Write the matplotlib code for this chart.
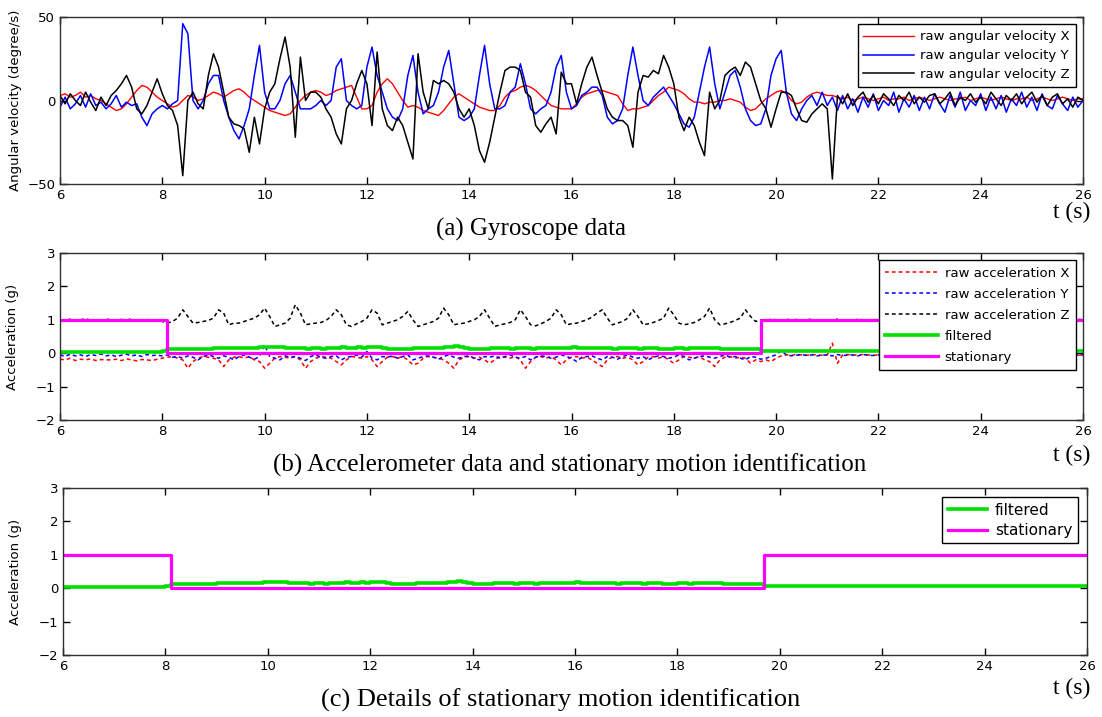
import numpy as np
import matplotlib
matplotlib.use('Agg')
import matplotlib.pyplot as plt

plt.rcParams['font.family'] = ['Liberation Sans Narrow', 'DejaVu Sans']

# time axis, 0.1 s sampling
t = np.linspace(6, 26, 201)

gyro_x = [
    3, 4, 2, 3, 5, 2, 3, 1, 0, -2,
    -4, -6, -5, -2, 2, 6, 9, 8, 5, 2,
    0, -2, -4, -3, 0, 3, 2, 0, 1, 3,
    5, 4, 2, 4, 6, 7, 5, 2, 0, -2,
    -4, -6, -7, -8, -9, -8, -4, 0, 3, 5,
    6, 5, 3, 4, 6, 7, 8, 9, 2, -5,
    -5, -3, 5, 10, 13, 10, 5, 0, -4, -3,
    -4, -6, -7, -8, -9, -6, -2, 2, 4, 2,
    0, -2, -4, -5, -6, -6, -3, 2, 5, 6,
    8, 9, 8, 6, 3, 0, -3, -4, -5, -5,
    -5, -2, 2, 4, 5, 6, 6, 5, 4, 3,
    -2, -6, -5, -5, -4, -3, 0, 3, 5, 8,
    7, 6, 4, 1, -1, -1, -2, -1, -1, 0,
    0, 1, 0, -1, -4, -6, -5, -2, 1, 3,
    5, 6, 4, 0, -2, -1, 2, 4, 5, 4,
    3, 3, 2, 1, 2, 0, 1, 2, 1, 0,
    1, 2, 0, 1, 1, 2, 0, 1, 2, 1,
    0, 1, 2, 1, 0, 1, 1, 2, 0, 1,
    2, 1, 0, 1, 2, 1, 0, 1, 1, 2,
    0, 1, 2, 1, 0, 1, 2, 1, 0, 1,
    1,
]

gyro_y = [
    -4, 2, -5, -2, 3, -4, 4, -3, -1, -5,
    -2, 3, -4, -1, -3, -2, -10, -15, -8, -5,
    -3, -5, -2, 0, 46, 40, 0, -5, 0, 10,
    15, 15, 0, -10, -18, -23, -15, -5, 15, 33,
    5, -5, -5, 0, 10, 15, 5, -5, -5, -5,
    -3, 0, -3, 0, 20, 25, 0, -3, -5, -3,
    20, 32, 15, 5, -5, -10, -12, -5, 15, 27,
    5, -8, -5, -3, 5, 20, 30, 10, -10, -12,
    -10, -5, 15, 33, 10, -5, -5, -3, 5, 8,
    22, 10, -5, -8, -5, -3, 5, 20, 27, 5,
    -5, -3, 3, 5, 8, 8, 3, -10, -14, -12,
    -5, 15, 32, 15, 0, -3, 2, 5, 8, 3,
    -2, -8, -14, -16, -10, 5, 20, 32, 10, -5,
    5, 15, 18, 8, -5, -12, -15, -14, -5, 15,
    25, 30, 5, -8, -12, -5, 0, 3, -3, 5,
    -3, 2, -6, 3, -5, 1, -7, 2, -4, 4,
    -6, 0, -3, 5, -7, 1, -4, 3, -6, 2,
    -5, 4, -2, -7, 3, -4, 5, -6, 0, -3,
    4, -6, 2, -5, 3, -7, 1, -3, 5, -4,
    2, -6, 4, -3, -5, 3, -2, -6, 2, -4,
    0,
]

gyro_z = [
    3, -2, 4, 0, -3, 5, -1, -6, 2, -3,
    3, 6, 10, 15, 8, -5, -8, -3, 5, 13,
    4, -3, -6, -15, -45, 0, 5, -2, -5, 15,
    28, 20, 5, -10, -14, -15, -17, -31, -10, -26,
    -5, 5, 10, 25, 38, 20, -22, 26, 0, 5,
    5, 2, -5, -10, -20, -26, -5, 0, 10, 18,
    10, -15, 29, -5, -15, -18, -10, -15, -25, -35,
    28, 5, -5, 12, 10, 12, 10, 5, -5, -10,
    -5, -15, -30, -37, -25, -10, 5, 18, 20, 20,
    18, 5, 2, -15, -19, -14, -10, -20, 17, 10,
    10, -2, 10, 20, 26, 15, 5, -5, -10, -12,
    -12, -15, -28, 5, 15, 14, 18, 16, 27, 20,
    10, -10, -18, -10, -15, -25, -33, 5, -5, 0,
    15, 18, 20, 15, 23, 20, 10, 0, -5, -16,
    -5, 5, 5, 3, -5, -12, -13, -8, -5, -2,
    -5, -47, 3, -2, 4, -3, 2, 5, -1, 3,
    -2, 4, 1, -3, 3, 0, 5, -2, 2, -1,
    3, 4, -2, 1, 5, -3, 2, 0, 4, -1,
    2, -2, 5, 1, -3, 3, 0, 4, -2, 2,
    5, -1, 3, -3, 2, 4, -2, 1, -4, 2,
    0,
]

acc_x = [
    -0.18, -0.2, -0.15, -0.22, -0.18, -0.2, -0.17, -0.22, -0.19, -0.2,
    -0.2, -0.18, -0.22, -0.17, -0.2, -0.23, -0.19, -0.2, -0.22, -0.18,
    -0.15, -0.12, -0.1, -0.15, -0.2, -0.45, -0.25, -0.15, -0.1, -0.12,
    -0.15, -0.2, -0.4, -0.2, -0.12, -0.1, -0.15, -0.1, -0.2, -0.25,
    -0.45, -0.3, -0.15, -0.1, -0.12, -0.15, -0.1, -0.2, -0.45, -0.25,
    -0.15, -0.1, -0.12, -0.15, -0.25, -0.35, -0.2, -0.1, -0.12, -0.15,
    -0.1, -0.2, -0.4, -0.25, -0.12, -0.1, -0.15, -0.1, -0.2, -0.35,
    -0.3, -0.15, -0.1, -0.12, -0.15, -0.2, -0.3, -0.45, -0.2, -0.12,
    -0.1, -0.15, -0.12, -0.2, -0.3, -0.2, -0.1, -0.12, -0.15, -0.1,
    -0.2, -0.45, -0.25, -0.12, -0.1, -0.15, -0.1, -0.2, -0.35, -0.2,
    -0.12, -0.1, -0.15, -0.12, -0.2, -0.3, -0.4, -0.2, -0.12, -0.1,
    -0.15, -0.12, -0.2, -0.35, -0.25, -0.12, -0.1, -0.15, -0.1, -0.2,
    -0.3, -0.2, -0.1, -0.12, -0.15, -0.1, -0.2, -0.25, -0.4, -0.2,
    -0.12, -0.1, -0.15, -0.12, -0.15, -0.3, -0.2, -0.25, -0.2, -0.25,
    -0.15, -0.08, -0.05, -0.06, -0.04, -0.05, -0.06, -0.04, -0.05, -0.06,
    -0.05, 0.3, -0.3, -0.05, -0.04, -0.06, -0.05, -0.04, -0.05, -0.06,
    -0.05, -0.04, -0.06, -0.05, -0.03, -0.05, -0.06, -0.04, -0.05, -0.05,
    -0.04, -0.06, -0.05, -0.04, -0.05, -0.06, -0.05, -0.03, -0.05, -0.04,
    -0.05, -0.06, -0.04, -0.05, -0.05, -0.04, -0.06, -0.05, -0.04, -0.05,
    -0.06, -0.05, -0.04, -0.05, -0.06, -0.04, -0.05, -0.05, -0.04, -0.06,
    -0.05,
]

acc_y = [
    -0.05, -0.1, -0.03, -0.08, -0.05, -0.1, -0.04, -0.07, -0.02, -0.08,
    -0.05, -0.1, -0.06, -0.03, -0.08, -0.05, -0.1, -0.04, -0.07, -0.06,
    -0.08, -0.05, -0.12, -0.1, -0.15, -0.08, -0.12, -0.2, -0.1, -0.05,
    -0.1, -0.15, -0.08, -0.12, -0.2, -0.1, -0.05, -0.12, -0.18, -0.1,
    0.25, -0.1, -0.15, -0.2, -0.08, -0.12, -0.1, -0.15, -0.22, -0.1,
    -0.05, -0.12, -0.15, -0.1, -0.08, -0.2, -0.12, -0.1, -0.05, -0.12,
    0.05, -0.15, -0.2, -0.1, -0.12, -0.08, -0.15, -0.1, -0.05, -0.2,
    -0.15, -0.1, -0.08, -0.12, -0.18, -0.1, -0.05, -0.12, -0.15, -0.1,
    -0.08, -0.15, -0.2, -0.1, -0.12, -0.08, -0.15, -0.1, -0.05, -0.12,
    -0.15, -0.1, -0.2, -0.12, -0.08, -0.1, -0.15, -0.12, -0.05, -0.1,
    -0.15, -0.25, -0.12, -0.1, -0.08, -0.15, -0.2, -0.1, -0.12, -0.18,
    -0.1, -0.05, -0.12, -0.15, -0.1, -0.2, -0.12, -0.08, -0.1, -0.15,
    -0.12, -0.05, -0.1, -0.2, -0.15, -0.1, -0.08, -0.12, -0.15, -0.1,
    -0.05, -0.12, -0.1, -0.15, -0.2, -0.1, -0.12, -0.18, -0.15, -0.1,
    -0.05, 0.08, -0.05, -0.08, -0.06, -0.04, -0.07, -0.05, -0.08, -0.06,
    -0.05, -0.08, -0.04, -0.07, -0.06, -0.05, -0.08, -0.04, -0.06, -0.07,
    -0.05, -0.08, -0.06, -0.04, -0.07, -0.05, -0.08, -0.06, -0.05, -0.07,
    -0.04, -0.06, -0.08, -0.05, -0.07, -0.06, -0.04, -0.08, -0.05, -0.06,
    -0.07, -0.05, -0.04, -0.08, -0.06, -0.05, -0.07, -0.06, -0.04, -0.08,
    -0.05, -0.06, -0.07, -0.05, -0.08, -0.04, -0.06, -0.05, -0.07, -0.06,
    -0.05,
]

acc_z = [
    1.0, 0.98, 1.02, 0.97, 1.0, 1.03, 0.99, 1.0, 0.96, 1.02,
    1.0, 0.98, 1.01, 0.99, 1.03, 0.97, 1.0, 1.01, 0.98, 1.0,
    0.95, 0.9, 0.95, 1.05, 1.3, 1.1, 0.9, 0.92, 0.95, 0.98,
    1.05, 1.3, 1.2, 0.85, 0.9, 0.9, 0.95, 1.0, 1.05, 1.15,
    1.35, 1.1, 0.8, 0.85, 0.9, 1.05, 1.45, 1.2, 0.85, 0.88,
    0.9, 0.92, 0.98, 1.1, 1.3, 1.15, 0.85, 0.8, 0.88, 0.95,
    1.05, 1.3, 1.2, 0.85, 0.9, 0.95, 1.0, 1.1, 1.25, 1.0,
    0.8, 0.85, 0.9, 0.95, 1.05, 1.35, 1.15, 0.85, 0.88, 0.9,
    0.95, 1.0, 1.1, 1.3, 1.05, 0.8, 0.85, 0.88, 0.92, 1.0,
    1.3, 1.1, 0.85, 0.82, 0.88, 0.95, 1.05, 1.3, 1.15, 0.85,
    0.88, 0.9, 0.95, 1.0, 1.08, 1.2, 1.3, 1.05, 0.85, 0.9,
    0.95, 1.05, 1.3, 1.1, 0.85, 0.88, 0.92, 0.98, 1.05, 1.35,
    1.15, 0.9, 0.85, 0.88, 0.92, 1.0, 1.1, 1.35, 1.0, 0.85,
    0.88, 0.92, 0.98, 1.05, 1.3, 1.1, 0.95, 1.0, 0.98, 1.02,
    1.0, 0.97, 1.02, 0.99, 1.01, 0.98, 1.0, 1.02, 0.98, 1.0,
    1.0, 0.95, 1.03, 0.99, 1.0, 0.98, 1.02, 1.0, 0.99, 1.01,
    1.0, 0.98, 1.01, 1.0, 0.99, 1.02, 0.98, 1.0, 1.01, 0.99,
    1.0, 1.02, 0.98, 1.0, 0.99, 1.01, 1.0, 0.98, 1.02, 1.0,
    0.99, 1.0, 1.01, 0.98, 1.0, 1.02, 0.99, 1.0, 0.98, 1.01,
    1.0, 0.99, 1.02, 1.0, 0.98, 1.0, 1.01, 0.99, 1.0, 1.02,
    1.0,
]

# filtered acceleration magnitude (minus gravity), 6.0 .. 26.0 s
filtered = (
    [0.05] * 20
    + [0.08, 0.12, 0.12, 0.13, 0.12, 0.12, 0.13, 0.12, 0.12, 0.14,
       0.15, 0.16, 0.17, 0.17, 0.16, 0.17, 0.15, 0.15, 0.17, 0.18,
       0.2, 0.19, 0.2, 0.18, 0.16, 0.15, 0.15, 0.16, 0.14, 0.15,
       0.15, 0.14, 0.15, 0.17, 0.17, 0.18, 0.17, 0.17, 0.18, 0.17,
       0.18, 0.2, 0.18, 0.17, 0.14, 0.12, 0.12, 0.13, 0.12, 0.15,
       0.16, 0.16, 0.17, 0.16, 0.17, 0.18, 0.2, 0.21, 0.19, 0.15,
       0.14, 0.13, 0.14, 0.14, 0.15, 0.15, 0.16, 0.15, 0.14, 0.16,
       0.15, 0.15, 0.14, 0.16, 0.16, 0.15, 0.15, 0.16, 0.15, 0.16,
       0.18, 0.17, 0.16, 0.15, 0.15, 0.16, 0.15, 0.15, 0.14, 0.16,
       0.15, 0.16, 0.15, 0.14, 0.15, 0.16, 0.15, 0.14, 0.13, 0.14,
       0.15, 0.15, 0.14, 0.16, 0.16, 0.17, 0.17, 0.16, 0.15, 0.13,
       0.12, 0.13, 0.13, 0.12, 0.12, 0.13, 0.12]
    + [0.08] * 64
)

stationary = [1] * 21 + [0] * 116 + [1] * 64

W, H = 1102, 717
fig = plt.figure(figsize=(W / 100, H / 100), dpi=100)


def px_axes(left, top, right, bottom):
    return fig.add_axes([left / W, 1 - bottom / H, (right - left) / W, (bottom - top) / H])


def style_axes(ax):
    ax.set_xlim(6, 26)
    ax.set_xticks(range(6, 27, 2))
    ax.tick_params(direction='in', top=True, right=True, labelsize=9.5, length=5, width=1)
    for s in ax.spines.values():
        s.set_linewidth(1.0)
        s.set_color('#303030')


leg_kw = dict(loc='upper right', fancybox=False, edgecolor='black', framealpha=1,
              handletextpad=0.5)

# (a) gyroscope
ax1 = px_axes(60, 17, 1083, 184)
ax1.plot(t, gyro_x, color='red', lw=1.0, label='raw angular velocity X')
ax1.plot(t, gyro_y, color='blue', lw=1.1, label='raw angular velocity Y')
ax1.plot(t, gyro_z, color='black', lw=1.1, label='raw angular velocity Z')
style_axes(ax1)
ax1.set_ylim(-50, 50)
ax1.set_yticks([-50, 0, 50])
ax1.set_ylabel('Angular velocity (degree/s)', fontsize=9.5, labelpad=4)
ax1.legend(fontsize=9.5, handlelength=3.8, borderpad=0.45, labelspacing=0.45,
           borderaxespad=0.55, **leg_kw)

# (b) accelerometer
ax2 = px_axes(60, 253, 1083, 420)
ax2.plot(t, acc_x, color='red', lw=1.1, ls='--', dashes=(2.5, 2), label='raw acceleration X')
ax2.plot(t, acc_y, color='blue', lw=1.1, ls='--', dashes=(2.5, 2), label='raw acceleration Y')
ax2.plot(t, acc_z, color='black', lw=1.1, ls='--', dashes=(2.5, 2), label='raw acceleration Z')
ax2.plot(t, filtered, color='#00e000', lw=2.6, drawstyle='steps-post', label='filtered')
ax2.plot(t, stationary, color='#ff00ff', lw=2.3, drawstyle='steps-post', label='stationary')
style_axes(ax2)
ax2.set_ylim(-2, 3)
ax2.set_yticks(range(-2, 4))
ax2.set_ylabel('Acceleration (g)', fontsize=9.5, labelpad=12)
ax2.legend(fontsize=9.5, handlelength=4.0, borderpad=0.5, labelspacing=0.6,
           borderaxespad=0.55, **leg_kw)

# (c) detail
ax3 = px_axes(63, 488, 1087, 655)
ax3.plot(t, filtered, color='#00e000', lw=2.6, drawstyle='steps-post', label='filtered')
ax3.plot(t, stationary, color='#ff00ff', lw=2.3, drawstyle='steps-post', label='stationary')
style_axes(ax3)
ax3.set_ylim(-2, 3)
ax3.set_yticks(range(-2, 4))
ax3.set_ylabel('Acceleration (g)', fontsize=9.5, labelpad=12)
ax3.legend(fontsize=11, handlelength=2.6, borderpad=0.35, labelspacing=0.35,
           borderaxespad=0.6, **leg_kw)

serif = ['Liberation Serif', 'DejaVu Serif']
captions = ['(a) Gyroscope data',
            '(b) Accelerometer data and stationary motion identification',
            '(c) Details of stationary motion identification']
cap_pos = [(531, 229), (570, 465), (561, 700)]
cap_size = [18, 18, 19]
ts_pos = [(1090, 212), (1090, 455), (1090, 688)]
for cap, (cx, cy), fs, (tx, ty) in zip(captions, cap_pos, cap_size, ts_pos):
    fig.text(cx / W, 1 - cy / H, cap, family=serif, fontsize=fs, ha='center', va='center')
    fig.text(tx / W, 1 - ty / H, 't (s)', family=serif, fontsize=17, ha='right', va='center')

fig.savefig('out.png', dpi=100)
